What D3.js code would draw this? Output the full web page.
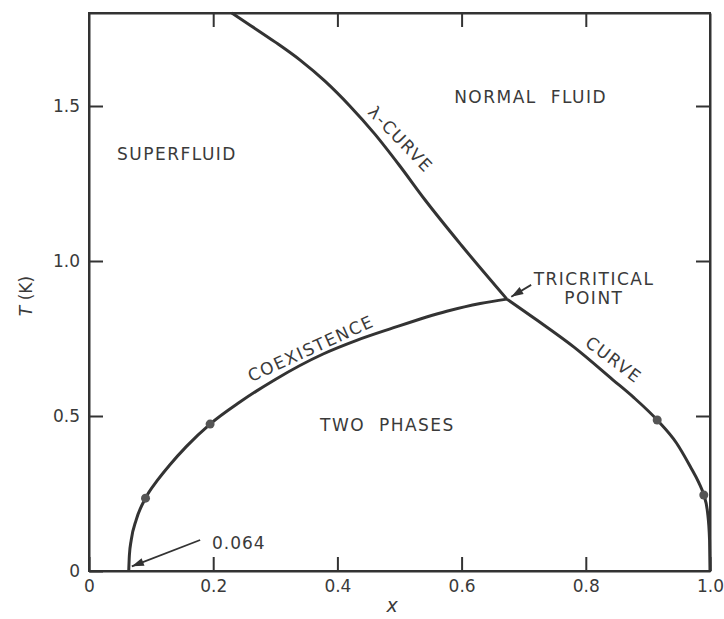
<!DOCTYPE html>
<html><head><meta charset="utf-8">
<script src="https://d3js.org/d3.v7.min.js"></script>
<style>
html,body{margin:0;padding:0;background:#fff;}
svg text{font-family:"DejaVu Sans",sans-serif;fill:#3a3a3a;}
</style></head>
<body><svg id="c" width="724" height="619"></svg>
<script>
// ---- data ----
const xTicks = [0, 0.2, 0.4, 0.6, 0.8, 1.0];
const xTickLabels = ["0", "0.2", "0.4", "0.6", "0.8", "1.0"];
const yTicks = [0, 0.5, 1.0, 1.5];
const yTickLabels = ["0", "0.5", "1.0", "1.5"];
// lambda line (x, T)
const lambdaX = [0.23, 0.26, 0.30, 0.34, 0.38, 0.42, 0.46, 0.50, 0.54, 0.60, 0.673];
const lambdaT = [1.80, 1.76, 1.706, 1.648, 1.58, 1.50, 1.41, 1.308, 1.20, 1.05, 0.877];
// coexistence curve, He4-rich branch
const coexLeftX = [0.064, 0.065, 0.068, 0.076, 0.091, 0.11, 0.13, 0.157, 0.195, 0.243, 0.30, 0.377, 0.431, 0.485, 0.576, 0.630, 0.673];
const coexLeftT = [0.0, 0.05, 0.10, 0.165, 0.235, 0.292, 0.342, 0.402, 0.474, 0.545, 0.618, 0.700, 0.744, 0.781, 0.838, 0.863, 0.877];
// coexistence curve, He3-rich branch
const coexRightX = [0.673, 0.72, 0.781, 0.844, 0.877, 0.915, 0.946, 0.968, 0.982, 0.990, 0.996, 0.9993, 1.0];
const coexRightT = [0.877, 0.811, 0.722, 0.616, 0.560, 0.487, 0.413, 0.338, 0.285, 0.245, 0.19, 0.10, 0.0];
// measured points
const dotX = [0.091, 0.195, 0.915, 0.990];
const dotT = [0.235, 0.474, 0.487, 0.245];
// annotations
const tricritical = {x: 0.673, T: 0.877};
const interceptLabel = "0.064";
const interceptX = 0.064;

// ---- scales ----
const svg = d3.select("#c");
const x = d3.scaleLinear().domain([0, 1]).range([89, 710]);
const y = d3.scaleLinear().domain([0, 1.8]).range([571, 13]);
const ink = "#333";

// frame
svg.append("rect").attr("x", x(0)).attr("y", y(1.8)).attr("width", x(1) - x(0)).attr("height", y(0) - y(1.8))
  .attr("fill", "none").attr("stroke", ink).attr("stroke-width", 2);

// axes with inward ticks
const fontSize = 17;
const axB = d3.axisBottom(x).tickValues(xTicks).tickFormat((d, i) => xTickLabels[i]).tickSizeInner(-14).tickSizeOuter(0).tickPadding(9);
const axL = d3.axisLeft(y).tickValues(yTicks).tickFormat((d, i) => yTickLabels[i]).tickSizeInner(-14).tickSizeOuter(0).tickPadding(9);
const axT = d3.axisTop(x).tickValues(xTicks.slice(1, -1)).tickFormat("").tickSizeInner(-14).tickSizeOuter(0);
const axR = d3.axisRight(y).tickValues(yTicks.slice(1)).tickFormat("").tickSizeInner(-14).tickSizeOuter(0);
function style(g) {
  g.select(".domain").attr("stroke", ink).attr("stroke-width", 2);
  g.selectAll(".tick line").attr("stroke", ink).attr("stroke-width", 2);
  g.selectAll(".tick text").attr("font-size", fontSize).attr("font-family", "DejaVu Sans").attr("fill", "#444");
}
svg.append("g").attr("transform", `translate(0,${y(0)})`).call(axB).call(style);
svg.append("g").attr("transform", `translate(${x(0)},0)`).call(axL).call(style);
svg.append("g").attr("transform", `translate(0,${y(1.8)})`).call(axT).call(style);
svg.append("g").attr("transform", `translate(${x(1)},0)`).call(axR).call(style);

// curves
const line = d3.line().x(d => x(d[0])).y(d => y(d[1])).curve(d3.curveMonotoneX);
const curves = [
  d3.zip(lambdaX, lambdaT),
  d3.zip(coexLeftX, coexLeftT),
  d3.zip(coexRightX, coexRightT)
];
svg.append("g").selectAll("path").data(curves).join("path")
  .attr("d", line).attr("fill", "none").attr("stroke", ink).attr("stroke-width", 3).attr("stroke-linejoin", "round");

// dots
svg.append("g").selectAll("circle").data(d3.zip(dotX, dotT)).join("circle")
  .attr("cx", d => x(d[0])).attr("cy", d => y(d[1])).attr("r", 4.5).attr("fill", "#555");

// arrows
function arrow(x1, y1, x2, y2) {
  svg.append("line").attr("x1", x1).attr("y1", y1).attr("x2", x2).attr("y2", y2)
    .attr("stroke", ink).attr("stroke-width", 1.8);
  const a = Math.atan2(y2 - y1, x2 - x1), L = 12, W = 4;
  const bx = x2 - L * Math.cos(a), by = y2 - L * Math.sin(a);
  svg.append("path").attr("d", `M${x2},${y2}L${bx - W * Math.sin(a)},${by + W * Math.cos(a)}L${bx + W * Math.sin(a)},${by - W * Math.cos(a)}Z`)
    .attr("fill", ink);
}
arrow(x(0.179), y(0.10), x(interceptX + 0.005), y(0.015));
arrow(x(0.712), y(0.923), x(tricritical.x + 0.007), y(tricritical.T + 0.008));

// labels
function label(txt, xv, tv, opts = {}) {
  const t = svg.append("text").text(txt)
    .attr("font-size", opts.size || 17).attr("letter-spacing", opts.ls == null ? 1.5 : opts.ls)
    .attr("text-anchor", opts.anchor || "start").attr("dy", "0.36em")
    .style("white-space", "pre");
  if (opts.rot != null) t.attr("transform", `translate(${x(xv)},${y(tv)}) rotate(${opts.rot})`);
  else t.attr("x", x(xv)).attr("y", y(tv));
  return t;
}
label("SUPERFLUID", 0.045, 1.345);
label("NORMAL  FLUID", 0.588, 1.529);
label("TWO  PHASES", 0.372, 0.471);
label("TRICRITICAL", 0.716, 0.942);
label("POINT", 0.813, 0.880, {anchor: "middle"});
label("\u03bb-CURVE", 0.502, 1.393, {anchor: "middle", rot: 46});
label("CURVE", 0.845, 0.682, {anchor: "middle", rot: 37});
label("COEXISTENCE", 0.357, 0.718, {anchor: "middle", rot: -24.5});
label(interceptLabel, 0.198, 0.09, {ls: 1});

// axis titles
const yt = svg.append("text").attr("transform", `translate(26,${y(0.887)}) rotate(-90)`)
  .attr("text-anchor", "middle").attr("font-size", 17).attr("dy", "0.36em");
yt.append("tspan").attr("font-style", "italic").text("T");
yt.append("tspan").text(" (K)");
svg.append("text").attr("x", x(0.488)).attr("y", 612).attr("text-anchor", "middle")
  .attr("font-size", 19).attr("font-style", "italic").text("x");
</script></body></html>
